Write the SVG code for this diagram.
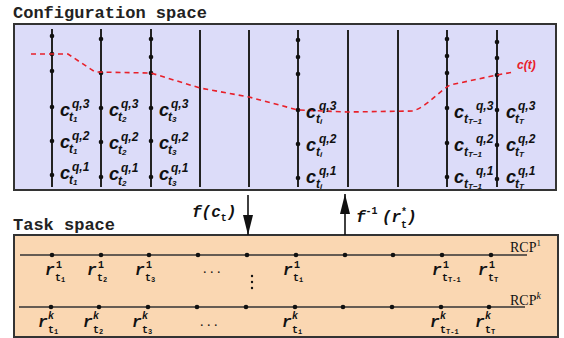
<svg xmlns="http://www.w3.org/2000/svg" width="564" height="338" viewBox="0 0 564 338">
<style>
.title{font-family:"Liberation Mono",monospace;font-weight:bold;font-size:17px;fill:#222}
.box{stroke:#333;stroke-width:2}
.vline{stroke:#222;stroke-width:2}
.hline{stroke:#333;stroke-width:1.6}
.dot{fill:#111}
.traj{fill:none;stroke:#e8202a;stroke-width:1.6;stroke-dasharray:5 4}
.cl{font-family:"Liberation Sans",Arial,sans-serif;font-weight:bold;font-style:italic;fill:#111}
.cm{font-size:18px}
.cs{font-size:12px}
.ci{font-size:8px}
.tt{font-family:"Liberation Mono",monospace;font-weight:bold;font-style:italic;fill:#111}
.tm{font-size:16px}
.ts{font-size:10px;font-style:normal}
.tk{font-size:10px}
.tx{font-size:7px;font-style:normal}
.rcp{font-family:"Liberation Serif",serif;font-size:14px;fill:#111}
.ell{font-family:"Liberation Serif",serif;font-size:14px;fill:#111}
.arr{stroke:#111;stroke-width:1.6;fill:none}
</style>
<defs>
<marker id="ah" viewBox="0 0 20 10" refX="20" refY="5" markerWidth="20" markerHeight="10" markerUnits="userSpaceOnUse" orient="auto">
<path d="M0,0 L20,5 L0,10 Z" fill="#111"/>
</marker>
</defs>

<g id="config-space">
<text class="title" x="13" y="18">Configuration space</text>
<rect class="box" x="14" y="24" width="542" height="166" fill="#dcdcf9"/>
</g>

<g id="slices">
<g id="slice-1"><line class="vline" x1="52" y1="29" x2="52" y2="187"/>
<circle class="dot" cx="52" cy="36" r="2.3"/><circle class="dot" cx="52" cy="54" r="2.3"/><circle class="dot" cx="52" cy="71" r="2.3"/>
<circle class="dot" cx="52" cy="107" r="2.3"/><circle class="dot" cx="52" cy="141" r="2.3"/><circle class="dot" cx="52" cy="175" r="2.3"/></g>
<g id="slice-2"><line class="vline" x1="101" y1="29" x2="101" y2="187"/>
<circle class="dot" cx="101" cy="39" r="2.3"/><circle class="dot" cx="101" cy="73" r="2.3"/>
<circle class="dot" cx="101" cy="108" r="2.3"/><circle class="dot" cx="101" cy="142" r="2.3"/><circle class="dot" cx="101" cy="177" r="2.3"/></g>
<g id="slice-3"><line class="vline" x1="151" y1="29" x2="151" y2="187"/>
<circle class="dot" cx="151" cy="39" r="2.3"/><circle class="dot" cx="151" cy="57" r="2.3"/><circle class="dot" cx="151" cy="73" r="2.3"/>
<circle class="dot" cx="151" cy="108" r="2.3"/><circle class="dot" cx="151" cy="141" r="2.3"/><circle class="dot" cx="151" cy="177" r="2.3"/></g>
<g id="slice-4"><line class="vline" x1="200" y1="30" x2="200" y2="187"/></g>
<g id="slice-5"><line class="vline" x1="249" y1="30" x2="249" y2="187"/></g>
<g id="slice-6"><line class="vline" x1="298" y1="30" x2="298" y2="187"/>
<circle class="dot" cx="298" cy="40" r="2.3"/><circle class="dot" cx="298" cy="57" r="2.3"/><circle class="dot" cx="298" cy="74" r="2.3"/>
<circle class="dot" cx="298" cy="110" r="2.3"/><circle class="dot" cx="298" cy="144" r="2.3"/><circle class="dot" cx="298" cy="178" r="2.3"/></g>
<g id="slice-7"><line class="vline" x1="348" y1="30" x2="348" y2="187"/></g>
<g id="slice-8"><line class="vline" x1="398" y1="30" x2="398" y2="187"/></g>
<g id="slice-9"><line class="vline" x1="447" y1="30" x2="447" y2="187"/>
<circle class="dot" cx="447" cy="39" r="2.3"/><circle class="dot" cx="447" cy="56" r="2.3"/><circle class="dot" cx="447" cy="73" r="2.3"/>
<circle class="dot" cx="447" cy="108" r="2.3"/><circle class="dot" cx="447" cy="143" r="2.3"/><circle class="dot" cx="447" cy="177" r="2.3"/></g>
<g id="slice-10"><line class="vline" x1="497" y1="30" x2="497" y2="187"/>
<circle class="dot" cx="497" cy="42" r="2.3"/><circle class="dot" cx="497" cy="58" r="2.3"/><circle class="dot" cx="497" cy="75" r="2.3"/>
<circle class="dot" cx="497" cy="110" r="2.3"/><circle class="dot" cx="497" cy="145" r="2.3"/><circle class="dot" cx="497" cy="179" r="2.3"/></g>
</g>

<g id="trajectory">
<path class="traj" d="M31,54 L68,54 L95,72 L151,73 L200,88 L249,97 L298,110 L348,112 L413,111 C428,106 438,92 450,85 L497,75 L514,72"/>
<text class="cl" x="517" y="69" font-size="12" style="fill:#e8202a">c(t)</text>
</g>

<g id="config-labels">
<text class="cl"><tspan class="cm" x="60" y="116">c</tspan><tspan class="cs" x="72" y="108">q,3</tspan><tspan class="cs" x="69" y="121">t</tspan><tspan class="ci" dy="1">1</tspan></text>
<text class="cl"><tspan class="cm" x="60" y="148">c</tspan><tspan class="cs" x="72" y="140">q,2</tspan><tspan class="cs" x="69" y="153">t</tspan><tspan class="ci" dy="1">1</tspan></text>
<text class="cl"><tspan class="cm" x="60" y="179">c</tspan><tspan class="cs" x="72" y="171">q,1</tspan><tspan class="cs" x="69" y="184">t</tspan><tspan class="ci" dy="1">1</tspan></text>

<text class="cl"><tspan class="cm" x="109" y="116">c</tspan><tspan class="cs" x="121" y="108">q,3</tspan><tspan class="cs" x="118" y="121">t</tspan><tspan class="ci" dy="1">2</tspan></text>
<text class="cl"><tspan class="cm" x="109" y="149">c</tspan><tspan class="cs" x="121" y="141">q,2</tspan><tspan class="cs" x="118" y="154">t</tspan><tspan class="ci" dy="1">2</tspan></text>
<text class="cl"><tspan class="cm" x="109" y="180">c</tspan><tspan class="cs" x="121" y="172">q,1</tspan><tspan class="cs" x="118" y="185">t</tspan><tspan class="ci" dy="1">2</tspan></text>

<text class="cl"><tspan class="cm" x="159" y="116">c</tspan><tspan class="cs" x="171" y="108">q,3</tspan><tspan class="cs" x="168" y="121">t</tspan><tspan class="ci" dy="1">3</tspan></text>
<text class="cl"><tspan class="cm" x="159" y="149">c</tspan><tspan class="cs" x="171" y="141">q,2</tspan><tspan class="cs" x="168" y="154">t</tspan><tspan class="ci" dy="1">3</tspan></text>
<text class="cl"><tspan class="cm" x="159" y="180">c</tspan><tspan class="cs" x="171" y="172">q,1</tspan><tspan class="cs" x="168" y="185">t</tspan><tspan class="ci" dy="1">3</tspan></text>

<text class="cl"><tspan class="cm" x="306" y="118">c</tspan><tspan class="cs" x="319" y="110">q,3</tspan><tspan class="cs" x="316" y="123">t</tspan><tspan class="ci" dy="1">i</tspan></text>
<text class="cl"><tspan class="cm" x="306" y="151">c</tspan><tspan class="cs" x="319" y="143">q,2</tspan><tspan class="cs" x="316" y="156">t</tspan><tspan class="ci" dy="1">i</tspan></text>
<text class="cl"><tspan class="cm" x="306" y="183">c</tspan><tspan class="cs" x="319" y="175">q,1</tspan><tspan class="cs" x="316" y="188">t</tspan><tspan class="ci" dy="1">i</tspan></text>

<text class="cl"><tspan class="cm" x="454" y="118">c</tspan><tspan class="cs" x="476" y="110">q,3</tspan><tspan class="cs" x="464" y="123">t</tspan><tspan class="ci" dy="1">T−1</tspan></text>
<text class="cl"><tspan class="cm" x="454" y="151">c</tspan><tspan class="cs" x="476" y="143">q,2</tspan><tspan class="cs" x="464" y="156">t</tspan><tspan class="ci" dy="1">T−1</tspan></text>
<text class="cl"><tspan class="cm" x="454" y="183">c</tspan><tspan class="cs" x="476" y="175">q,1</tspan><tspan class="cs" x="464" y="188">t</tspan><tspan class="ci" dy="1">T−1</tspan></text>

<text class="cl"><tspan class="cm" x="506" y="118">c</tspan><tspan class="cs" x="518" y="110">q,3</tspan><tspan class="cs" x="515" y="123">t</tspan><tspan class="ci" dy="1">T</tspan></text>
<text class="cl"><tspan class="cm" x="506" y="151">c</tspan><tspan class="cs" x="518" y="143">q,2</tspan><tspan class="cs" x="515" y="156">t</tspan><tspan class="ci" dy="1">T</tspan></text>
<text class="cl"><tspan class="cm" x="506" y="183">c</tspan><tspan class="cs" x="518" y="175">q,1</tspan><tspan class="cs" x="515" y="188">t</tspan><tspan class="ci" dy="1">T</tspan></text>
</g>

<g id="task-space">
<text class="title" x="13" y="230">Task space</text>
<rect class="box" x="14" y="235" width="544" height="102" fill="#fad7b2"/>
</g>

<g id="rcp-1">
<line class="hline" x1="20" y1="255" x2="527" y2="255"/>
<circle class="dot" cx="52" cy="255" r="2.3"/><circle class="dot" cx="101" cy="255" r="2.3"/><circle class="dot" cx="149" cy="255" r="2.3"/><circle class="dot" cx="198" cy="255" r="2.3"/><circle class="dot" cx="247" cy="255" r="2.3"/>
<circle class="dot" cx="296" cy="255" r="2.3"/><circle class="dot" cx="345" cy="255" r="2.3"/><circle class="dot" cx="393" cy="255" r="2.3"/><circle class="dot" cx="442" cy="255" r="2.3"/><circle class="dot" cx="491" cy="255" r="2.3"/>
<text class="rcp" x="510" y="252">RCP<tspan font-size="9" dy="-6">1</tspan></text>
<text class="tt"><tspan class="tm" x="45" y="275">r</tspan><tspan class="ts" x="56" y="268">1</tspan><tspan class="ts" x="55" y="281">t</tspan><tspan class="tx" dy="1">1</tspan></text>
<text class="tt"><tspan class="tm" x="87" y="275">r</tspan><tspan class="ts" x="98" y="268">1</tspan><tspan class="ts" x="97" y="281">t</tspan><tspan class="tx" dy="1">2</tspan></text>
<text class="tt"><tspan class="tm" x="135" y="275">r</tspan><tspan class="ts" x="146" y="268">1</tspan><tspan class="ts" x="145" y="281">t</tspan><tspan class="tx" dy="1">3</tspan></text>
<text class="ell" x="203" y="273">. . .</text>
<text class="tt"><tspan class="tm" x="283" y="275">r</tspan><tspan class="ts" x="294" y="268">1</tspan><tspan class="ts" x="293" y="281">t</tspan><tspan class="tx" dy="1">i</tspan></text>
<text class="tt"><tspan class="tm" x="432" y="275">r</tspan><tspan class="ts" x="443" y="268">1</tspan><tspan class="ts" x="442" y="281">t</tspan><tspan class="tx" dy="1">T-1</tspan></text>
<text class="tt"><tspan class="tm" x="478" y="275">r</tspan><tspan class="ts" x="489" y="268">1</tspan><tspan class="ts" x="488" y="281">t</tspan><tspan class="tx" dy="1">T</tspan></text>
</g>

<g id="vdots">
<circle class="dot" cx="252" cy="276" r="1.2"/><circle class="dot" cx="252" cy="282" r="1.2"/><circle class="dot" cx="252" cy="288" r="1.2"/>
</g>

<g id="rcp-k">
<line class="hline" x1="19" y1="307" x2="525" y2="307"/>
<circle class="dot" cx="51" cy="307" r="2.3"/><circle class="dot" cx="99" cy="307" r="2.3"/><circle class="dot" cx="148" cy="307" r="2.3"/><circle class="dot" cx="197" cy="307" r="2.3"/><circle class="dot" cx="246" cy="307" r="2.3"/>
<circle class="dot" cx="295" cy="307" r="2.3"/><circle class="dot" cx="343" cy="307" r="2.3"/><circle class="dot" cx="392" cy="307" r="2.3"/><circle class="dot" cx="441" cy="307" r="2.3"/><circle class="dot" cx="489" cy="307" r="2.3"/>
<text class="rcp" x="510" y="305">RCP<tspan font-size="10" font-style="italic" dy="-6">k</tspan></text>
<text class="tt"><tspan class="tm" x="38" y="327">r</tspan><tspan class="tk" x="48" y="319">k</tspan><tspan class="ts" x="48" y="333">t</tspan><tspan class="tx" dy="1">1</tspan></text>
<text class="tt"><tspan class="tm" x="83" y="327">r</tspan><tspan class="tk" x="93" y="319">k</tspan><tspan class="ts" x="93" y="333">t</tspan><tspan class="tx" dy="1">2</tspan></text>
<text class="tt"><tspan class="tm" x="132" y="327">r</tspan><tspan class="tk" x="142" y="319">k</tspan><tspan class="ts" x="142" y="333">t</tspan><tspan class="tx" dy="1">3</tspan></text>
<text class="ell" x="200" y="326">. . .</text>
<text class="tt"><tspan class="tm" x="282" y="327">r</tspan><tspan class="tk" x="292" y="319">k</tspan><tspan class="ts" x="292" y="333">t</tspan><tspan class="tx" dy="1">i</tspan></text>
<text class="tt"><tspan class="tm" x="430" y="327">r</tspan><tspan class="tk" x="440" y="319">k</tspan><tspan class="ts" x="440" y="333">t</tspan><tspan class="tx" dy="1">T-1</tspan></text>
<text class="tt"><tspan class="tm" x="475" y="327">r</tspan><tspan class="tk" x="485" y="319">k</tspan><tspan class="ts" x="485" y="333">t</tspan><tspan class="tx" dy="1">T</tspan></text>
</g>

<g id="connectors">
<line class="arr" x1="248" y1="195" x2="248" y2="235" marker-end="url(#ah)"/>
<text class="tt"><tspan class="tm" x="192" y="217">f(c</tspan><tspan class="ts" dy="4">t</tspan><tspan class="tm" dy="-4">)</tspan></text>
<line class="arr" x1="345" y1="235" x2="345" y2="194" marker-end="url(#ah)"/>
<text class="tt"><tspan class="tm" x="356" y="222">f</tspan><tspan class="ts" dy="-8">-1</tspan><tspan class="tm" x="382" y="222">(r</tspan><tspan class="ts" x="401" y="215">*</tspan><tspan class="ts" x="401" y="228">t</tspan><tspan class="tm" x="407" y="222">)</tspan></text>
</g>
</svg>
